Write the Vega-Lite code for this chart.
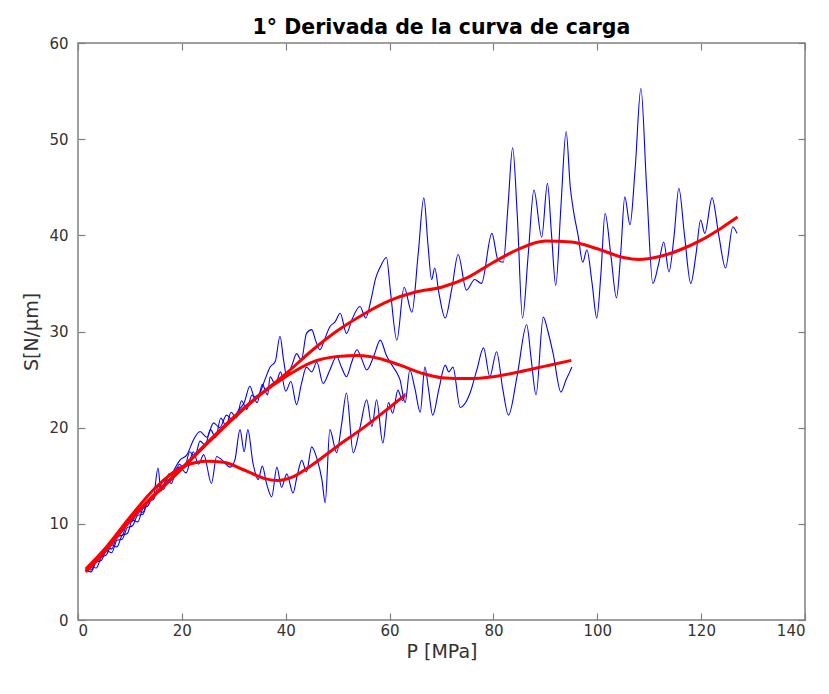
{
  "$schema": "https://vega.github.io/schema/vega-lite/v6.json",
  "width": 727,
  "height": 577,
  "autosize": {"type": "none"},
  "padding": {"left": 78, "top": 43, "right": 24, "bottom": 74},
  "background": "white",
  "title": {"text": "1° Derivada de la curva de carga", "font": "DejaVu Sans", "fontSize": 20.5, "fontWeight": "bold", "color": "#000000", "offset": -2, "anchor": "middle"},
  "config": {
    "view": {"stroke": "#808080", "strokeWidth": 1.5},
    "axis": {"grid": false, "domain": false, "tickColor": "#808080", "tickSize": -7, "tickWidth": 1.2, "labelFont": "DejaVu Sans", "labelFontSize": 15, "labelColor": "#333333", "titleFont": "DejaVu Sans", "titleFontSize": 19, "titleFontWeight": "normal", "titleColor": "#333333"}
  },
  "datasets": {
    "raw": [
      {"series": "s3", "P": 1.5, "S": 5.0}, {"series": "s3", "P": 2.5, "S": 5.6}, {"series": "s3", "P": 3.5, "S": 5.4}, {"series": "s3", "P": 4.5, "S": 6.5}, {"series": "s3", "P": 5.5, "S": 6.8}, {"series": "s3", "P": 6.5, "S": 7.8}, {"series": "s3", "P": 7.5, "S": 7.6}, {"series": "s3", "P": 8.5, "S": 8.8}, {"series": "s3", "P": 9.5, "S": 9.0}, {"series": "s3", "P": 10.5, "S": 10.4}, {"series": "s3", "P": 11.5, "S": 10.2}, {"series": "s3", "P": 12.5, "S": 11.6}, {"series": "s3", "P": 13.5, "S": 11.9}, {"series": "s3", "P": 14.5, "S": 13.0}, {"series": "s3", "P": 15.5, "S": 13.4}, {"series": "s3", "P": 16.5, "S": 14.6}, {"series": "s3", "P": 17.5, "S": 14.3}, {"series": "s3", "P": 18.5, "S": 15.6}, {"series": "s3", "P": 19.6, "S": 16.6},
      {"series": "s3", "P": 21, "S": 17.2}, {"series": "s3", "P": 22.3, "S": 18.8}, {"series": "s3", "P": 23.5, "S": 19.6}, {"series": "s3", "P": 24.8, "S": 19.0}, {"series": "s3", "P": 26.1, "S": 20.5}, {"series": "s3", "P": 27.3, "S": 20.0}, {"series": "s3", "P": 28.6, "S": 21.3}, {"series": "s3", "P": 29.8, "S": 20.8}, {"series": "s3", "P": 30.9, "S": 21.8}, {"series": "s3", "P": 32, "S": 22.6}, {"series": "s3", "P": 33.1, "S": 24.3}, {"series": "s3", "P": 34, "S": 23.2}, {"series": "s3", "P": 35, "S": 23.6}, {"series": "s3", "P": 36, "S": 25.0}, {"series": "s3", "P": 37, "S": 26.3}, {"series": "s3", "P": 38, "S": 26.9}, {"series": "s3", "P": 38.9, "S": 29.5}, {"series": "s3", "P": 39.6, "S": 27.0}, {"series": "s3", "P": 40.2, "S": 25.3}, {"series": "s3", "P": 41.2, "S": 26.5}, {"series": "s3", "P": 42.1, "S": 27.7}, {"series": "s3", "P": 43, "S": 27.0}, {"series": "s3", "P": 44, "S": 29.8}, {"series": "s3", "P": 45, "S": 30.2}, {"series": "s3", "P": 45.8, "S": 29.0}, {"series": "s3", "P": 46.6, "S": 28.1}, {"series": "s3", "P": 47.5, "S": 29.2}, {"series": "s3", "P": 48.5, "S": 30.5}, {"series": "s3", "P": 49.5, "S": 31.0}, {"series": "s3", "P": 50.5, "S": 31.9}, {"series": "s3", "P": 51.7, "S": 29.8}, {"series": "s3", "P": 52.8, "S": 31.3}, {"series": "s3", "P": 54.3, "S": 32.6}, {"series": "s3", "P": 55.4, "S": 31.4}, {"series": "s3", "P": 56.5, "S": 33.5}, {"series": "s3", "P": 57.3, "S": 35.5}, {"series": "s3", "P": 58.2, "S": 36.7}, {"series": "s3", "P": 59.4, "S": 37.7}, {"series": "s3", "P": 60.2, "S": 34.0}, {"series": "s3", "P": 61.4, "S": 29.1}, {"series": "s3", "P": 62.8, "S": 34.6}, {"series": "s3", "P": 64.3, "S": 32.0}, {"series": "s3", "P": 65.5, "S": 38.0}, {"series": "s3", "P": 66.6, "S": 43.9}, {"series": "s3", "P": 67.4, "S": 39.0}, {"series": "s3", "P": 68.1, "S": 35.4}, {"series": "s3", "P": 68.7, "S": 36.6}, {"series": "s3", "P": 69.5, "S": 34.0}, {"series": "s3", "P": 70.7, "S": 31.4}, {"series": "s3", "P": 72, "S": 34.5}, {"series": "s3", "P": 73.2, "S": 38.0}, {"series": "s3", "P": 74.8, "S": 34.3}, {"series": "s3", "P": 76.4, "S": 35.4}, {"series": "s3", "P": 77.7, "S": 35.0}, {"series": "s3", "P": 79.7, "S": 40.2}, {"series": "s3", "P": 80.9, "S": 37.4}, {"series": "s3", "P": 81.9, "S": 37.2}, {"series": "s3", "P": 82.8, "S": 43.0}, {"series": "s3", "P": 83.7, "S": 49.1}, {"series": "s3", "P": 84.6, "S": 42.0}, {"series": "s3", "P": 85.6, "S": 31.4}, {"series": "s3", "P": 86.7, "S": 38.0}, {"series": "s3", "P": 87.8, "S": 44.7}, {"series": "s3", "P": 89.3, "S": 39.8}, {"series": "s3", "P": 90.4, "S": 45.4}, {"series": "s3", "P": 91.2, "S": 40.0}, {"series": "s3", "P": 92, "S": 34.8}, {"series": "s3", "P": 93, "S": 43.0}, {"series": "s3", "P": 94, "S": 50.8}, {"series": "s3", "P": 94.8, "S": 45.0}, {"series": "s3", "P": 95.4, "S": 42.6}, {"series": "s3", "P": 96.3, "S": 40.0}, {"series": "s3", "P": 97.2, "S": 37.2}, {"series": "s3", "P": 98, "S": 38.5}, {"series": "s3", "P": 99, "S": 35.0}, {"series": "s3", "P": 99.9, "S": 31.4}, {"series": "s3", "P": 100.7, "S": 36.0}, {"series": "s3", "P": 101.5, "S": 42.3}, {"series": "s3", "P": 102.6, "S": 38.0}, {"series": "s3", "P": 103.7, "S": 33.5}, {"series": "s3", "P": 104.5, "S": 38.0}, {"series": "s3", "P": 105.3, "S": 44.0}, {"series": "s3", "P": 106.3, "S": 41.1}, {"series": "s3", "P": 107.3, "S": 47.0}, {"series": "s3", "P": 108.4, "S": 55.3}, {"series": "s3", "P": 109.5, "S": 45.0}, {"series": "s3", "P": 110.7, "S": 35.0}, {"series": "s3", "P": 111.8, "S": 37.0}, {"series": "s3", "P": 112.8, "S": 39.3}, {"series": "s3", "P": 113.8, "S": 36.2}, {"series": "s3", "P": 114.8, "S": 40.0}, {"series": "s3", "P": 115.7, "S": 44.9}, {"series": "s3", "P": 116.8, "S": 40.0}, {"series": "s3", "P": 118, "S": 35.0}, {"series": "s3", "P": 119, "S": 38.0}, {"series": "s3", "P": 119.9, "S": 41.6}, {"series": "s3", "P": 120.7, "S": 40.2}, {"series": "s3", "P": 122.1, "S": 43.9}, {"series": "s3", "P": 123.4, "S": 40.0}, {"series": "s3", "P": 124.7, "S": 36.6}, {"series": "s3", "P": 126.1, "S": 40.9}, {"series": "s3", "P": 126.9, "S": 40.2},

      {"series": "s2", "P": 1.5, "S": 5.2}, {"series": "s2", "P": 2.5, "S": 5.0}, {"series": "s2", "P": 3.5, "S": 6.0}, {"series": "s2", "P": 4.5, "S": 6.2}, {"series": "s2", "P": 5.5, "S": 7.2}, {"series": "s2", "P": 6.5, "S": 7.0}, {"series": "s2", "P": 7.5, "S": 8.3}, {"series": "s2", "P": 8.5, "S": 8.4}, {"series": "s2", "P": 9.5, "S": 9.6}, {"series": "s2", "P": 10.5, "S": 9.8}, {"series": "s2", "P": 11.5, "S": 10.9}, {"series": "s2", "P": 12.5, "S": 11.0}, {"series": "s2", "P": 13.5, "S": 12.4}, {"series": "s2", "P": 14.5, "S": 12.5}, {"series": "s2", "P": 15.5, "S": 13.9}, {"series": "s2", "P": 16.5, "S": 13.6}, {"series": "s2", "P": 17.5, "S": 15.2}, {"series": "s2", "P": 18.5, "S": 15.0}, {"series": "s2", "P": 19.5, "S": 16.2}, {"series": "s2", "P": 20.5, "S": 15.8}, {"series": "s2", "P": 21.5, "S": 17.5}, {"series": "s2", "P": 22.5, "S": 17.0}, {"series": "s2", "P": 23.5, "S": 18.6}, {"series": "s2", "P": 24.5, "S": 18.2}, {"series": "s2", "P": 25.5, "S": 19.8}, {"series": "s2", "P": 26.5, "S": 19.0}, {"series": "s2", "P": 27.5, "S": 21.0}, {"series": "s2", "P": 28.5, "S": 20.2}, {"series": "s2", "P": 29.5, "S": 21.6}, {"series": "s2", "P": 30.5, "S": 21.0}, {"series": "s2", "P": 31.5, "S": 22.8}, {"series": "s2", "P": 32.5, "S": 21.9}, {"series": "s2", "P": 33.5, "S": 23.4}, {"series": "s2", "P": 34.5, "S": 22.6}, {"series": "s2", "P": 35.5, "S": 24.5}, {"series": "s2", "P": 36.5, "S": 23.4}, {"series": "s2", "P": 37, "S": 25.3}, {"series": "s2", "P": 38, "S": 24.5}, {"series": "s2", "P": 39, "S": 25.8}, {"series": "s2", "P": 40, "S": 23.8}, {"series": "s2", "P": 41, "S": 24.8}, {"series": "s2", "P": 42.1, "S": 22.4}, {"series": "s2", "P": 43, "S": 24.5}, {"series": "s2", "P": 44, "S": 26.3}, {"series": "s2", "P": 45, "S": 25.8}, {"series": "s2", "P": 46, "S": 26.8}, {"series": "s2", "P": 47.2, "S": 24.6}, {"series": "s2", "P": 48.5, "S": 26.0}, {"series": "s2", "P": 49.8, "S": 27.4}, {"series": "s2", "P": 50.8, "S": 26.2}, {"series": "s2", "P": 51.7, "S": 25.3}, {"series": "s2", "P": 52.7, "S": 26.8}, {"series": "s2", "P": 53.7, "S": 28.1}, {"series": "s2", "P": 54.6, "S": 27.2}, {"series": "s2", "P": 55.6, "S": 26.0}, {"series": "s2", "P": 57, "S": 27.5}, {"series": "s2", "P": 58.2, "S": 29.1}, {"series": "s2", "P": 59.4, "S": 27.5}, {"series": "s2", "P": 60.7, "S": 26.3}, {"series": "s2", "P": 61.4, "S": 25.7}, {"series": "s2", "P": 62, "S": 25.0}, {"series": "s2", "P": 63, "S": 22.6}, {"series": "s2", "P": 63.9, "S": 26.0}, {"series": "s2", "P": 64.9, "S": 24.0}, {"series": "s2", "P": 65.9, "S": 21.6}, {"series": "s2", "P": 66.8, "S": 26.3}, {"series": "s2", "P": 67.5, "S": 24.0}, {"series": "s2", "P": 68.3, "S": 21.3}, {"series": "s2", "P": 69.5, "S": 24.0}, {"series": "s2", "P": 70.7, "S": 26.5}, {"series": "s2", "P": 71.4, "S": 25.8}, {"series": "s2", "P": 72.2, "S": 26.3}, {"series": "s2", "P": 73.6, "S": 22.1}, {"series": "s2", "P": 75.5, "S": 23.6}, {"series": "s2", "P": 76.8, "S": 26.0}, {"series": "s2", "P": 78.1, "S": 28.3}, {"series": "s2", "P": 79.3, "S": 25.3}, {"series": "s2", "P": 80.6, "S": 27.9}, {"series": "s2", "P": 81.8, "S": 24.0}, {"series": "s2", "P": 82.9, "S": 21.3}, {"series": "s2", "P": 84.6, "S": 25.5}, {"series": "s2", "P": 86.4, "S": 30.7}, {"series": "s2", "P": 87.3, "S": 27.0}, {"series": "s2", "P": 88.2, "S": 23.4}, {"series": "s2", "P": 89.6, "S": 31.5}, {"series": "s2", "P": 90.5, "S": 30.0}, {"series": "s2", "P": 91.5, "S": 27.7}, {"series": "s2", "P": 93, "S": 23.7}, {"series": "s2", "P": 94, "S": 25.0}, {"series": "s2", "P": 94.7, "S": 25.8}, {"series": "s2", "P": 95.1, "S": 26.3},

      {"series": "s1", "P": 1.5, "S": 5.4}, {"series": "s1", "P": 2.5, "S": 5.2}, {"series": "s1", "P": 3.5, "S": 6.2}, {"series": "s1", "P": 4.5, "S": 6.6}, {"series": "s1", "P": 5.5, "S": 7.5}, {"series": "s1", "P": 6.5, "S": 7.4}, {"series": "s1", "P": 7.5, "S": 8.7}, {"series": "s1", "P": 8.5, "S": 8.8}, {"series": "s1", "P": 9.5, "S": 10.1}, {"series": "s1", "P": 10.5, "S": 10.3}, {"series": "s1", "P": 11.5, "S": 11.3}, {"series": "s1", "P": 12.5, "S": 11.2}, {"series": "s1", "P": 13.5, "S": 12.5}, {"series": "s1", "P": 14.5, "S": 12.7}, {"series": "s1", "P": 15.4, "S": 15.8}, {"series": "s1", "P": 16, "S": 13.4}, {"series": "s1", "P": 17, "S": 14.6}, {"series": "s1", "P": 18, "S": 14.2}, {"series": "s1", "P": 19, "S": 15.8}, {"series": "s1", "P": 19.6, "S": 15.9}, {"series": "s1", "P": 20.8, "S": 15.3}, {"series": "s1", "P": 22.2, "S": 17.5}, {"series": "s1", "P": 23.2, "S": 16.2}, {"series": "s1", "P": 24.2, "S": 17.2}, {"series": "s1", "P": 25.7, "S": 14.2}, {"series": "s1", "P": 26.7, "S": 17.0}, {"series": "s1", "P": 27.8, "S": 16.6}, {"series": "s1", "P": 29.3, "S": 15.9}, {"series": "s1", "P": 30.2, "S": 16.6}, {"series": "s1", "P": 31.2, "S": 19.8}, {"series": "s1", "P": 32, "S": 17.5}, {"series": "s1", "P": 32.7, "S": 19.8}, {"series": "s1", "P": 33.7, "S": 16.3}, {"series": "s1", "P": 34.7, "S": 14.6}, {"series": "s1", "P": 35.5, "S": 16.0}, {"series": "s1", "P": 36.3, "S": 14.2}, {"series": "s1", "P": 37.3, "S": 12.8}, {"series": "s1", "P": 38.3, "S": 15.9}, {"series": "s1", "P": 39.2, "S": 13.8}, {"series": "s1", "P": 40.2, "S": 15.2}, {"series": "s1", "P": 41.4, "S": 13.2}, {"series": "s1", "P": 42.2, "S": 15.0}, {"series": "s1", "P": 43.1, "S": 16.6}, {"series": "s1", "P": 44, "S": 15.4}, {"series": "s1", "P": 45, "S": 18.0}, {"series": "s1", "P": 46, "S": 16.8}, {"series": "s1", "P": 47, "S": 14.5}, {"series": "s1", "P": 47.6, "S": 12.2}, {"series": "s1", "P": 48.5, "S": 19.8}, {"series": "s1", "P": 49.8, "S": 17.4}, {"series": "s1", "P": 50.8, "S": 20.5}, {"series": "s1", "P": 51.7, "S": 23.6}, {"series": "s1", "P": 53, "S": 17.4}, {"series": "s1", "P": 54.3, "S": 20.0}, {"series": "s1", "P": 55.6, "S": 22.9}, {"series": "s1", "P": 56.6, "S": 20.1}, {"series": "s1", "P": 57.5, "S": 22.9}, {"series": "s1", "P": 58.7, "S": 18.4}, {"series": "s1", "P": 59.8, "S": 22.6}, {"series": "s1", "P": 60.6, "S": 21.5}, {"series": "s1", "P": 61.6, "S": 23.9}, {"series": "s1", "P": 62.5, "S": 22.8}, {"series": "s1", "P": 63, "S": 23.6}
    ],
    "fit": [
      {"series": "s3", "P": 1.5, "S": 5.0}, {"series": "s3", "P": 5, "S": 7.0}, {"series": "s3", "P": 10, "S": 10.3}, {"series": "s3", "P": 15, "S": 13.1}, {"series": "s3", "P": 20, "S": 15.7}, {"series": "s3", "P": 25, "S": 18.4}, {"series": "s3", "P": 30, "S": 21.0}, {"series": "s3", "P": 35, "S": 23.4}, {"series": "s3", "P": 40, "S": 25.6}, {"series": "s3", "P": 45, "S": 28.0}, {"series": "s3", "P": 50, "S": 30.1}, {"series": "s3", "P": 55, "S": 31.8}, {"series": "s3", "P": 60, "S": 33.2}, {"series": "s3", "P": 65, "S": 34.1}, {"series": "s3", "P": 70, "S": 34.6}, {"series": "s3", "P": 75, "S": 35.6}, {"series": "s3", "P": 80, "S": 37.2}, {"series": "s3", "P": 85, "S": 38.6}, {"series": "s3", "P": 90, "S": 39.4}, {"series": "s3", "P": 95, "S": 39.3}, {"series": "s3", "P": 100, "S": 38.6}, {"series": "s3", "P": 105, "S": 37.7}, {"series": "s3", "P": 108, "S": 37.5}, {"series": "s3", "P": 112, "S": 37.8}, {"series": "s3", "P": 116, "S": 38.5}, {"series": "s3", "P": 120, "S": 39.5}, {"series": "s3", "P": 124, "S": 40.8}, {"series": "s3", "P": 127, "S": 41.9},
      {"series": "s2", "P": 1.5, "S": 5.1}, {"series": "s2", "P": 5, "S": 7.1}, {"series": "s2", "P": 10, "S": 10.4}, {"series": "s2", "P": 15, "S": 13.2}, {"series": "s2", "P": 20, "S": 15.8}, {"series": "s2", "P": 25, "S": 18.5}, {"series": "s2", "P": 30, "S": 21.1}, {"series": "s2", "P": 35, "S": 23.4}, {"series": "s2", "P": 40, "S": 25.3}, {"series": "s2", "P": 45, "S": 26.8}, {"series": "s2", "P": 50, "S": 27.4}, {"series": "s2", "P": 54, "S": 27.5}, {"series": "s2", "P": 58, "S": 27.2}, {"series": "s2", "P": 62, "S": 26.5}, {"series": "s2", "P": 66, "S": 25.7}, {"series": "s2", "P": 70, "S": 25.2}, {"series": "s2", "P": 75, "S": 25.1}, {"series": "s2", "P": 80, "S": 25.3}, {"series": "s2", "P": 85, "S": 25.8}, {"series": "s2", "P": 90, "S": 26.4}, {"series": "s2", "P": 95, "S": 27.0},
      {"series": "s1", "P": 1.5, "S": 5.3}, {"series": "s1", "P": 5, "S": 7.3}, {"series": "s1", "P": 10, "S": 10.7}, {"series": "s1", "P": 15, "S": 13.8}, {"series": "s1", "P": 20, "S": 15.9}, {"series": "s1", "P": 25, "S": 16.5}, {"series": "s1", "P": 28, "S": 16.4}, {"series": "s1", "P": 32, "S": 15.6}, {"series": "s1", "P": 36, "S": 14.7}, {"series": "s1", "P": 38.5, "S": 14.5}, {"series": "s1", "P": 41, "S": 14.8}, {"series": "s1", "P": 45, "S": 16.1}, {"series": "s1", "P": 50, "S": 18.1}, {"series": "s1", "P": 55, "S": 20.0}, {"series": "s1", "P": 60, "S": 22.1}, {"series": "s1", "P": 63, "S": 23.4}
    ]
  },
  "layer": [
    {
      "data": {"name": "raw"},
      "mark": {"type": "line", "color": "#0000ff", "strokeWidth": 1.1, "interpolate": "monotone"},
      "encoding": {
        "x": {"field": "P", "type": "quantitative", "scale": {"domain": [0, 140], "nice": false}, "axis": {"orient": "bottom", "title": "P [MPa]", "values": [0, 20, 40, 60, 80, 100, 120, 140], "labelPadding": 10, "titlePadding": 4}},
        "y": {"field": "S", "type": "quantitative", "scale": {"domain": [0, 60], "nice": false}, "axis": {"orient": "left", "title": "S[N/μm]", "values": [0, 10, 20, 30, 40, 50, 60], "labelPadding": 17, "titlePadding": 7}},
        "detail": {"field": "series"}
      }
    },
    {
      "data": {"name": "fit"},
      "mark": {"type": "line", "color": "#ff0000", "strokeWidth": 3, "interpolate": "monotone"},
      "encoding": {
        "x": {"field": "P", "type": "quantitative", "scale": {"domain": [0, 140], "nice": false}, "axis": {"orient": "top", "title": null, "labels": false, "values": [0, 20, 40, 60, 80, 100, 120, 140]}},
        "y": {"field": "S", "type": "quantitative", "scale": {"domain": [0, 60], "nice": false}, "axis": {"orient": "right", "title": null, "labels": false, "values": [0, 10, 20, 30, 40, 50, 60]}},
        "detail": {"field": "series"}
      }
    }
  ],
  "resolve": {"axis": {"x": "independent", "y": "independent"}}
}
